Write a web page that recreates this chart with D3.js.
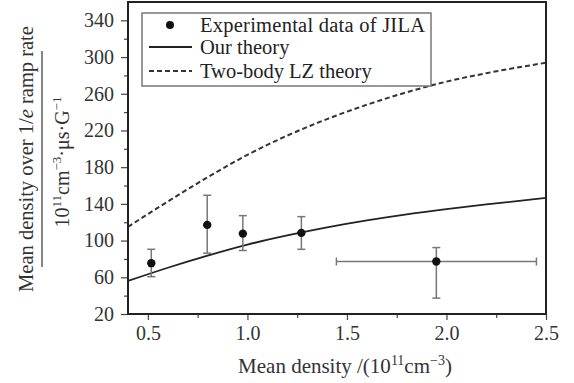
<!DOCTYPE html>
<html>
<head>
<meta charset="utf-8">
<script src="https://cdn.jsdelivr.net/npm/d3@7"></script>
<style>
  body { margin: 0; background: #fff; }
  svg { display: block; }
  svg text { font-family: "Liberation Serif", "Times New Roman", "DejaVu Serif", serif; }
</style>
</head>
<body>
<div id="chart"></div>
<script>
// measured points (JILA)
const expX = [0.517, 0.798, 0.977, 1.271, 1.949];
const expY = [75.4, 117.1, 107.6, 108.4, 77.2];
const expYLo = [60.7, 86.3, 89.2, 90.5, 37.3];
const expYHi = [90.5, 149.4, 127.2, 126.1, 92.4];
const expXLo = [null, null, null, null, 1.447];
const expXHi = [null, null, null, null, 2.452];

// theory curves
const curveX = [0.4, 0.6, 0.8, 1.0, 1.2, 1.4, 1.6, 1.8, 2.0, 2.2, 2.5];
const ourTheory = [56, 70.4, 83.6, 95.6, 105.6, 114.4, 122, 128.6, 134.2, 139.4, 146.6];
const lzTheory = [115, 142.6, 169, 193.4, 214.4, 232.4, 248, 261.6, 273.2, 282.4, 293.8];

const xTicks = [0.5, 1.0, 1.5, 2.0, 2.5];
const xMinor = [0.75, 1.25, 1.75, 2.25];
const yTicks = [20, 60, 100, 140, 180, 220, 260, 300, 340];
const yMinor = [40, 80, 120, 160, 200, 240, 280, 320];

const legendLabels = ['Experimental data of JILA', 'Our theory', 'Two-body LZ theory'];

const width = 574, height = 383;
const margin = { left: 128, right: 28, top: 2, bottom: 69 };
const w = width - margin.left - margin.right;
const h = height - margin.top - margin.bottom;

const svg = d3.select('#chart').append('svg')
  .attr('width', width)
  .attr('height', height);

const x = d3.scaleLinear().domain([0.4, 2.5]).range([0, w]);
const y = d3.scaleLinear().domain([20, 360]).range([h, 0]);

const g = svg.append('g').attr('transform', `translate(${margin.left},${margin.top})`);

// minor ticks
g.append('g').attr('transform', `translate(0,${h})`)
  .call(d3.axisBottom(x).tickValues(xMinor).tickSize(4).tickFormat(''))
  .call(a => a.select('.domain').remove());
g.append('g')
  .call(d3.axisLeft(y).tickValues(yMinor).tickSize(4).tickFormat(''))
  .call(a => a.select('.domain').remove());

const xAxis = g.append('g').attr('transform', `translate(0,${h})`)
  .call(d3.axisBottom(x).tickValues(xTicks).tickSize(6).tickPadding(6).tickFormat(d3.format('.1f')));
const yAxis = g.append('g')
  .call(d3.axisLeft(y).tickValues(yTicks).tickSize(7).tickPadding(7));

[xAxis, yAxis].forEach(a => {
  a.selectAll('.domain').remove();
  a.selectAll('text').attr('font-size', 20).attr('fill', '#333');
});
g.selectAll('.tick line').attr('stroke', '#444').attr('stroke-width', 1.2);

// theory lines
const line = d3.line().curve(d3.curveMonotoneX);
g.append('path')
  .attr('d', line(curveX.map((d, i) => [x(d), y(ourTheory[i])])))
  .attr('fill', 'none').attr('stroke', '#222').attr('stroke-width', 1.8);
g.append('path')
  .attr('d', line(curveX.map((d, i) => [x(d), y(lzTheory[i])])))
  .attr('fill', 'none').attr('stroke', '#333').attr('stroke-width', 2)
  .attr('stroke-dasharray', '5,3');

// error bars
const eb = g.append('g').attr('stroke', '#777').attr('stroke-width', 1.5);
expX.forEach((d, i) => {
  eb.append('line').attr('x1', x(d)).attr('x2', x(d)).attr('y1', y(expYLo[i])).attr('y2', y(expYHi[i]));
  [expYLo[i], expYHi[i]].forEach(v => {
    eb.append('line').attr('x1', x(d) - 4).attr('x2', x(d) + 4).attr('y1', y(v)).attr('y2', y(v));
  });
  if (expXLo[i] != null) {
    eb.append('line').attr('x1', x(expXLo[i])).attr('x2', x(expXHi[i])).attr('y1', y(expY[i])).attr('y2', y(expY[i]));
    [expXLo[i], expXHi[i]].forEach(v => {
      eb.append('line').attr('x1', x(v)).attr('x2', x(v)).attr('y1', y(expY[i]) - 4).attr('y2', y(expY[i]) + 4);
    });
  }
});

g.selectAll('circle.pt').data(expX).join('circle')
  .attr('class', 'pt')
  .attr('cx', d => x(d))
  .attr('cy', (d, i) => y(expY[i]))
  .attr('r', 4.2)
  .attr('fill', '#111');

// frame
g.append('rect').attr('width', w).attr('height', h)
  .attr('fill', 'none').attr('stroke', '#222').attr('stroke-width', 2);

// legend
const lg = svg.append('g').attr('transform', 'translate(142,13)');
lg.append('rect').attr('width', 289).attr('height', 73)
  .attr('fill', '#fff').attr('stroke', '#777').attr('stroke-width', 1.5);
const rowY = [12, 34, 58];
lg.append('circle').attr('cx', 28).attr('cy', rowY[0]).attr('r', 4).attr('fill', '#111');
lg.append('line').attr('x1', 7).attr('x2', 50).attr('y1', rowY[1]).attr('y2', rowY[1])
  .attr('stroke', '#222').attr('stroke-width', 1.8);
lg.append('line').attr('x1', 7).attr('x2', 50).attr('y1', rowY[2]).attr('y2', rowY[2])
  .attr('stroke', '#333').attr('stroke-width', 2).attr('stroke-dasharray', '5,3');
lg.selectAll('text').data(legendLabels).join('text')
  .attr('x', 58)
  .attr('y', (d, i) => rowY[i] + 7)
  .attr('font-size', 20.5)
  .attr('fill', '#222')
  .attr('textLength', (d, i) => [225, null, null][i])
  .text(d => d);

// x axis title
const xt = svg.append('text')
  .attr('x', margin.left + w / 2 + 8).attr('y', 373)
  .attr('text-anchor', 'middle').attr('font-size', 21).attr('fill', '#333');
xt.append('tspan').text('Mean density /(10');
xt.append('tspan').attr('font-size', 14).attr('dy', -8).text('11');
xt.append('tspan').attr('dy', 8).text('cm');
xt.append('tspan').attr('font-size', 14).attr('dy', -8).text('\u22123');
xt.append('tspan').attr('dy', 8).text(')');

// y axis title as a fraction
const yt = svg.append('g').attr('transform', 'translate(0,159) rotate(-90)');
const num = yt.append('text').attr('x', 0).attr('y', 33)
  .attr('text-anchor', 'middle').attr('font-size', 20.5).attr('fill', '#333');
num.append('tspan').text('Mean density over 1/');
num.append('tspan').attr('font-style', 'italic').text('e');
num.append('tspan').text(' ramp rate');
yt.append('line').attr('x1', -108).attr('x2', 108).attr('y1', 42).attr('y2', 42)
  .attr('stroke', '#444').attr('stroke-width', 1.3);
const den = yt.append('text').attr('x', -3).attr('y', 69)
  .attr('text-anchor', 'middle').attr('font-size', 20).attr('fill', '#333');
den.append('tspan').text('10');
den.append('tspan').attr('font-size', 13).attr('dy', -8).text('11');
den.append('tspan').attr('dy', 8).text('cm');
den.append('tspan').attr('font-size', 13).attr('dy', -8).text('\u22123');
den.append('tspan').attr('dy', 8).text('\u00b7\u03bcs\u00b7G');
den.append('tspan').attr('font-size', 13).attr('dy', -8).text('\u22121');
</script>
</body>
</html>
